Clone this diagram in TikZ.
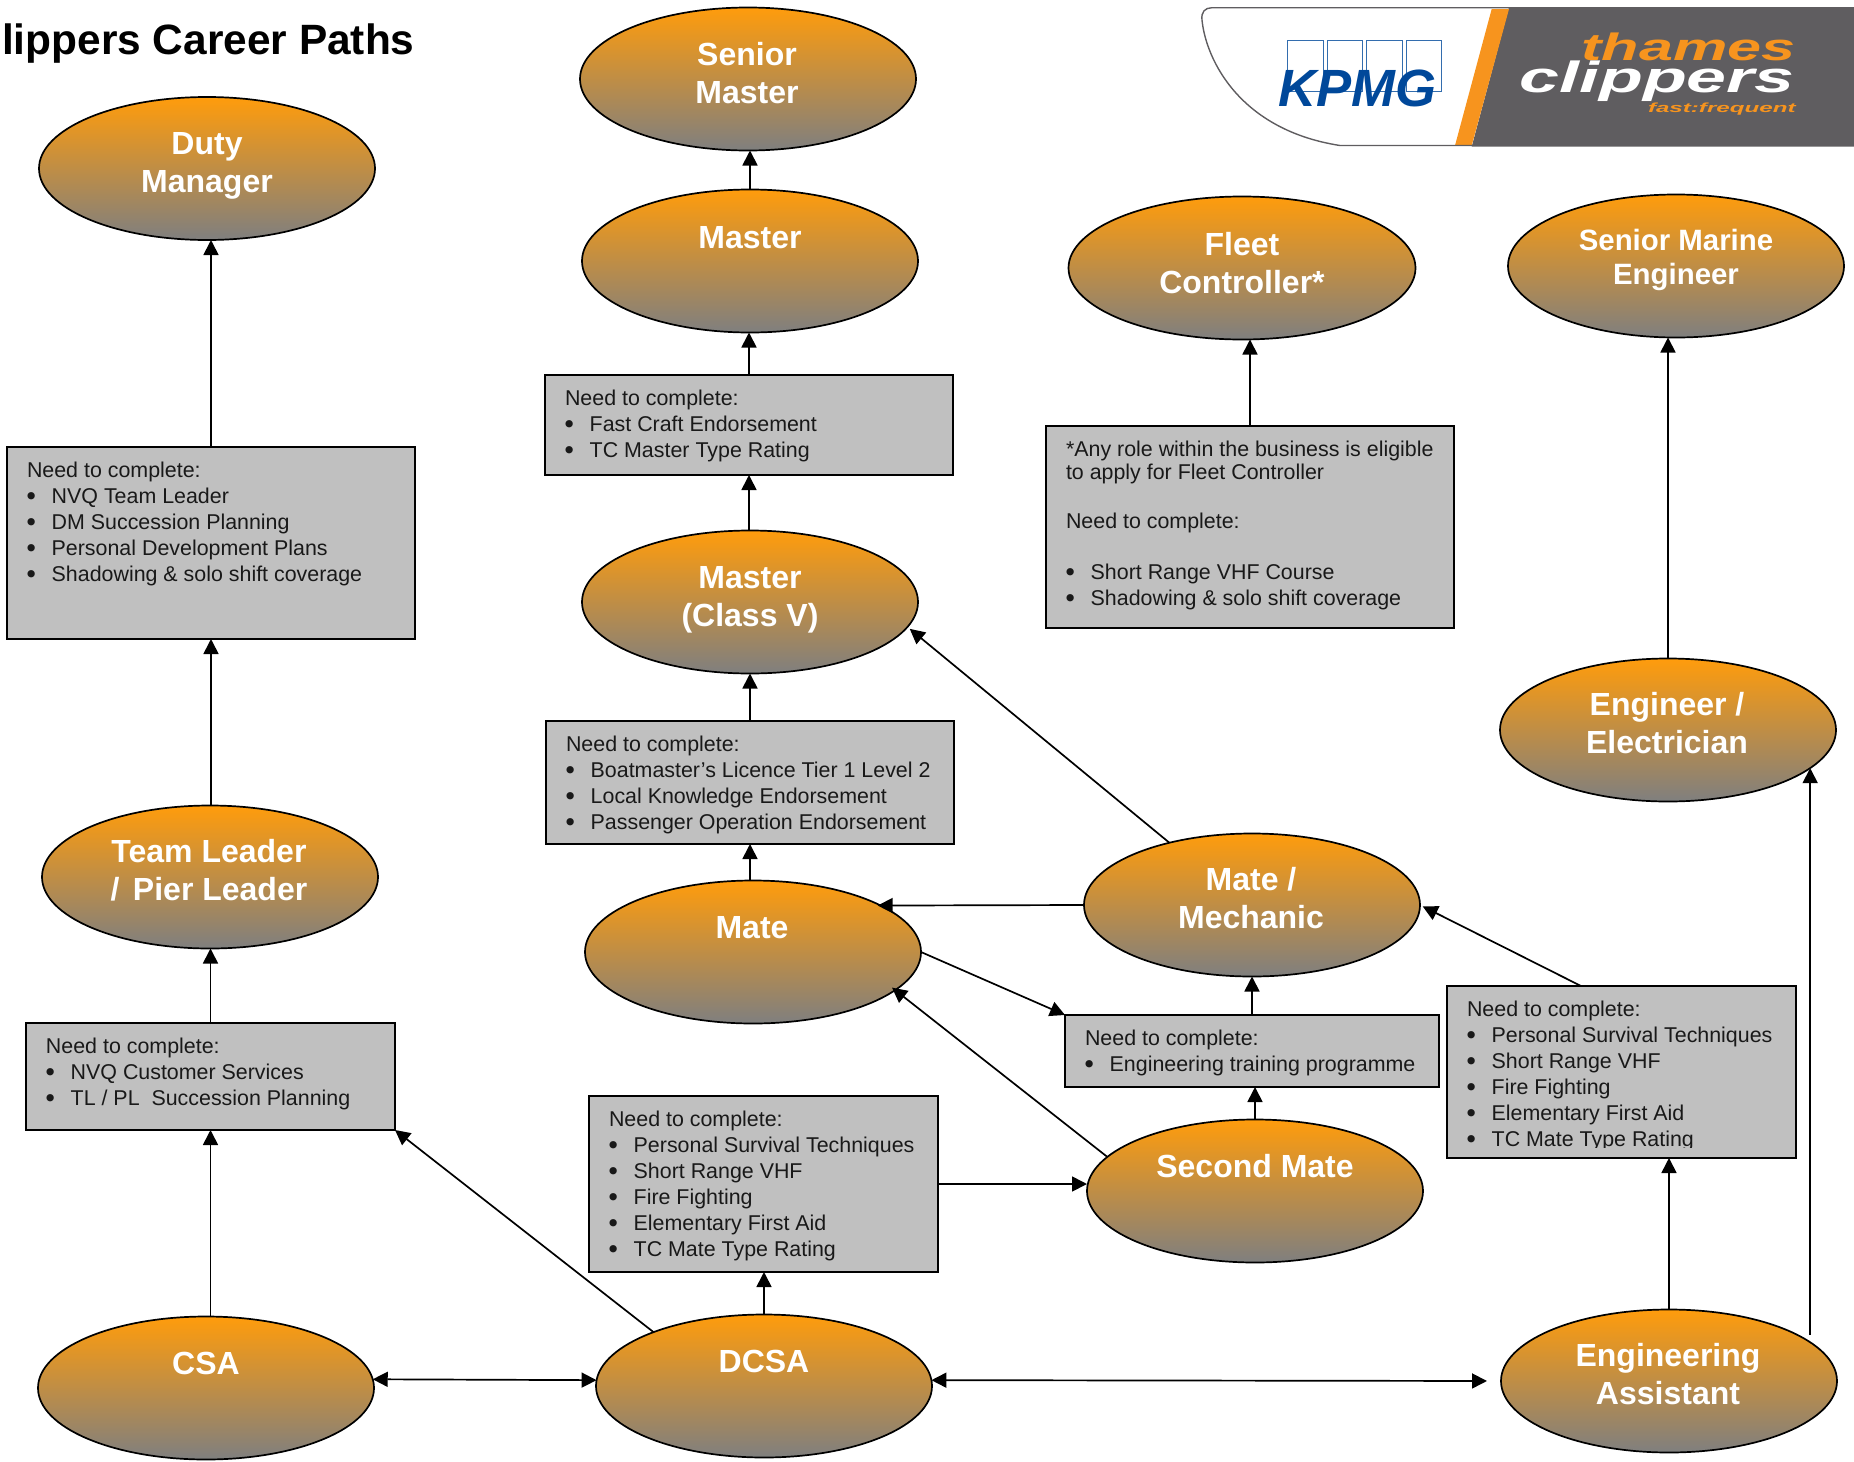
\documentclass[tikz,border=0pt]{standalone}
\usepackage{fontspec}
\usepackage{graphicx}
\setmainfont{Liberation Sans}
\newfontfamily\bulfont{DejaVu Sans}
\usetikzlibrary{shapes.geometric,arrows.meta,calc}
\definecolor{ovaltop}{HTML}{FF9C0C}
\definecolor{ovalbot}{HTML}{7F7F7F}
\definecolor{boxgray}{HTML}{C0C0C0}
\definecolor{bannergray}{HTML}{5F5D60}
\definecolor{bannerorange}{HTML}{F7941E}
\definecolor{kpmgblue}{HTML}{00489A}
\newcommand{\bulitem}{\makebox[12.35pt][l]{\hspace*{-1.6pt}\raisebox{-1.4pt}{\bulfont\fontsize{12.5}{13}\selectfont •}}}
\tikzset{
  >={Triangle[length=7.5pt,width=7.5pt]},
  oval/.style={ellipse,draw=black,line width=.85pt,minimum width=168pt,minimum height=71.5pt,inner sep=0pt,outer sep=0pt,top color=ovaltop,bottom color=ovalbot},
  ovaltext/.style={align=center,text=white,inner sep=0pt,font=\bfseries\fontsize{16}{19}\selectfont},
  gbox/.style={rectangle,draw=black,line width=.8pt,fill=boxgray,inner sep=0pt,outer sep=0pt},
  gtext/.style={anchor=north west,align=left,inner sep=0pt,text=black!90,font=\fontsize{10.7}{13}\selectfont},
  arr/.style={->,line width=.85pt,black},
  biarr/.style={<->,line width=.85pt,black}
}
\begin{document}
\begin{tikzpicture}[x=.5pt,y=-.5pt]
\useasboundingbox (0,0) rectangle (1854,1462);
% title
\node[anchor=base east,inner sep=0pt,font=\bfseries\fontsize{21.2}{25}\selectfont] (title) at (415,54) {lippers Career Paths};
% banner
\fill[bannergray] (1509,7) -- (1854,7) -- (1854,146.7) -- (1471.7,146.7) -- cycle;
\fill[bannerorange] (1491.7,9) -- (1509,9) -- (1471.7,145.5) -- (1455,145.5) -- cycle;
\draw[bannergray,line width=.7pt] (1509,7.7) -- (1212,7.7) .. controls (1205,7.7) and (1201,12) .. (1202,20)
  .. controls (1206,60) and (1240,130) .. (1340,145.5) -- (1472,145.5);
\foreach \bx in {1287.7,1327.3,1366.7,1406}
  \draw[kpmgblue!80,line width=.5pt] (\bx,40.7) rectangle ++(35.6,51);
\node[inner sep=0pt,anchor=base west,text=kpmgblue] (kpmg) at (1278,106.5) {\resizebox{79pt}{18.3pt}{\bfseries\itshape KPMG}};
\node[inner sep=0pt,anchor=base east,text=bannerorange] (thames) at (1796,60.5) {\resizebox{107pt}{13.8pt}{\bfseries\itshape thames}};
\node[inner sep=0pt,anchor=base east,text=white] (clippers) at (1795,92.7) {\resizebox{137.5pt}{15.8pt}{\bfseries\itshape clippers}};
\node[inner sep=0pt,anchor=base east,text=bannerorange] (fastfreq) at (1796,112) {\resizebox{73.8pt}{4.8pt}{\bfseries\itshape fast:frequent}};
% ovals
\node[oval] (sm) at (748,79) {};
\node[oval] (duty) at (207,168.5) {};
\node[oval] (master) at (750,261) {};
\node[oval,minimum width=173.5pt] (fleet) at (1242,268) {};
\node[oval] (sme) at (1676,266) {};
\node[oval] (mv) at (750,602) {};
\node[oval] (eng) at (1668,730) {};
\node[oval] (mm) at (1252,905) {};
\node[oval] (tl) at (210,877) {};
\node[oval] (mate) at (753,952) {};
\node[oval] (smate) at (1255,1191) {};
\node[oval] (csa) at (206,1388) {};
\node[oval] (dcsa) at (764,1386) {};
\node[oval] (ea) at (1669,1381) {};
\node[ovaltext] (tsm) at (747,73) {Senior\\Master};
\node[ovaltext] (tduty) at (207,166) {Duty\\Manager};
\node[ovaltext] (tmaster) at (750,237.5) {Master};
\node[ovaltext] (tfleet) at (1242,263) {Fleet\\Controller*};
\node[ovaltext,font=\bfseries\fontsize{14.7}{17.2}\selectfont] (tsme) at (1676,260) {Senior Marine\\Engineer};
\node[ovaltext] (tmv) at (750,599.5) {Master\\(Class V)};
\node[ovaltext] (teng) at (1667,723.5) {Engineer /\\Electrician};
\node[ovaltext] (tmm) at (1251,898) {Mate /\\Mechanic};
\node[ovaltext] (ttl) at (209,870.5) {Team Leader\\/\hspace{.42em}Pier Leader};
\node[ovaltext] (tmate) at (752,928) {Mate};
\node[ovaltext] (tsmate) at (1255,1166) {Second Mate};
\node[ovaltext] (tcsa) at (206,1363) {CSA};
\node[ovaltext] (tdcsa) at (764,1361) {DCSA};
\node[ovaltext] (tea) at (1668,1374) {Engineering\\Assistant};
% boxes
\node[gbox,minimum width=204pt,minimum height=96pt] (dmbox) at (211,543) {};
\node[gbox,minimum width=204pt,minimum height=50pt] (fbox) at (749,425) {};
\node[gbox,minimum width=204pt,minimum height=101pt] (flbox) at (1250,527) {};
\node[gbox,minimum width=204pt,minimum height=61.5pt] (bbox) at (750,782.5) {};
\node[gbox,minimum width=184.5pt,minimum height=53.5pt] (csbox) at (210.5,1076.5) {};
\node[gbox,minimum width=187pt,minimum height=36pt] (ebox) at (1252,1051) {};
\node[gbox,minimum width=174.5pt,minimum height=86pt] (pbox) at (1621.5,1072) {};
\node[gbox,minimum width=174.5pt,minimum height=88pt] (dbox) at (763.5,1184) {};
\node[gtext] (tdmbox) at ([xshift=9.8pt,yshift=-7.1pt]dmbox.north west) {Need to complete:\\\bulitem NVQ Team Leader\\\bulitem DM Succession Planning\\\bulitem Personal Development Plans\\\bulitem Shadowing \& solo shift coverage};
\node[gtext] (tfbox) at ([xshift=9.8pt,yshift=-7.1pt]fbox.north west) {Need to complete:\\\bulitem Fast Craft Endorsement\\\bulitem TC Master Type Rating};
\node[gtext] (tflbox) at ([xshift=9.8pt,yshift=-7.1pt]flbox.north west) {*Any role within the business is eligible\\[-1.2pt]to apply for Fleet Controller\\[11.25pt]Need to complete:\\[12.4pt]\bulitem Short Range VHF Course\\\bulitem Shadowing \& solo shift coverage};
\node[gtext] (tbbox) at ([xshift=9.8pt,yshift=-7.1pt]bbox.north west) {Need to complete:\\\bulitem Boatmaster’s Licence Tier 1 Level 2\\\bulitem Local Knowledge Endorsement\\\bulitem Passenger Operation Endorsement};
\node[gtext] (tcsbox) at ([xshift=9.8pt,yshift=-7.1pt]csbox.north west) {Need to complete:\\\bulitem NVQ Customer Services\\\bulitem TL / PL\ \ Succession Planning};
\node[gtext] (tebox) at ([xshift=9.8pt,yshift=-7.1pt]ebox.north west) {Need to complete:\\\bulitem Engineering training programme};
\begin{scope}
\clip (1447,986) rectangle (1796,1147);
\node[gtext] (tpbox) at ([xshift=9.8pt,yshift=-7.1pt]pbox.north west) {Need to complete:\\\bulitem Personal Survival Techniques\\\bulitem Short Range VHF\\\bulitem Fire Fighting\\\bulitem Elementary First Aid\\\bulitem TC Mate Type Rating};
\end{scope}
\node[gtext] (tdbox) at ([xshift=9.8pt,yshift=-7.1pt]dbox.north west) {Need to complete:\\\bulitem Personal Survival Techniques\\\bulitem Short Range VHF\\\bulitem Fire Fighting\\\bulitem Elementary First Aid\\\bulitem TC Mate Type Rating};
% connectors
\draw[arr] (csbox.south |- csa.north) -- (csbox.south);
\draw[arr] (csbox.north) -- (csbox.north |- tl.south);
\draw[arr] (dmbox.south |- tl.north) -- (dmbox.south);
\draw[arr] (dmbox.north) -- (dmbox.north |- duty.south);
\draw[arr] (master.north) -- (master.north |- sm.south);
\draw[arr] (fbox.north) -- (fbox.north |- master.south);
\draw[arr] (fbox.south |- mv.north) -- (fbox.south);
\draw[arr] (bbox.north) -- (bbox.north |- mv.south);
\draw[arr] (bbox.south |- mate.north) -- (bbox.south);
\draw[arr] (flbox.north) -- (flbox.north |- fleet.south);
\draw[arr] (eng.north) -- (eng.north |- sme.south);
\draw[arr,shorten >=1.5pt] (mm.143.5) -- (mv.-9.6);
\draw[arr,shorten >=-1.5pt] (mm.west) -- (mate.20);
\draw[arr] (mate.east) -- (ebox.north west);
\draw[arr] (ebox.north) -- (mm.south);
\draw[arr] (smate.north) -- (smate.north |- ebox.south);
\draw[arr,shorten >=-2pt] (smate.167.5) -- (mate.-15);
\draw[arr] (dbox.east) -- (dbox.east -| smate.west);
\draw[arr] (dcsa.north) -- (dcsa.north |- dbox.south);
\draw[arr] (dcsa.154.8) -- (csbox.south east);
\draw[biarr] (csa.3) -- (dcsa.178);
\draw[biarr,shorten >=7pt] (dcsa.2) -- (ea.west);
\draw[arr] (ea.north) -- (ea.north |- pbox.south);
\draw[arr,shorten >=1.5pt] ($(pbox.north west)!.384!(pbox.north east)$) -- (mm.east);
\draw[arr,shorten <=3pt] (eng.-15.4 |- ea.16) -- (eng.-15.4);
\end{tikzpicture}
\end{document}
